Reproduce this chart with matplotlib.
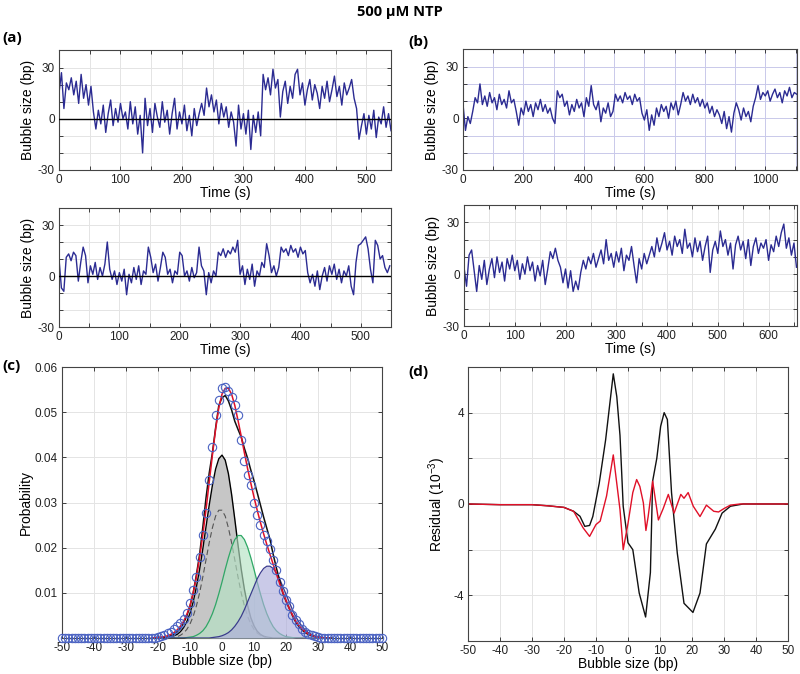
import numpy as np
import matplotlib
matplotlib.use("Agg")
import matplotlib.pyplot as plt

plt.rcParams['font.family'] = ['Liberation Sans', 'DejaVu Sans']
plt.rcParams['mathtext.default'] = 'regular'
plt.rcParams['axes.unicode_minus'] = False
plt.rcParams['xtick.direction'] = 'in'
plt.rcParams['ytick.direction'] = 'in'

# ---------------- time traces (bubble size in bp) ----------------
# (a) upper trace, one value every 4 s
step_a1 = 4
trace_a1 = [15, 27, 6, 21, 17, 24, 14, 22, 9, 26, 12, 20, 8, 19, 4, -6, 5, -3, 8, -8,
            3, 11, -4, 6, -2, 9, 0, 4, -6, 10, -3, 7, -9, 2, -20, 12, -4, 6, -8, 9,
            1, -5, 10, -2, 5, -9, 3, 12, -6, 4, -3, 8, -7, 2, -10, 6, -4, 3, 9, 2,
            18, 7, 14, 4, 11, -3, 9, 1, 7, -5, 4, -2, -16, 8, -6, 3, -9, 5, -18, 2,
            -8, 4, -10, 26, 17, 24, 14, 29, 18, 23, 1, 16, 22, 9, 19, 12, 26, 29, 14, 21,
            8, 17, 23, 11, 20, 15, 6, 19, 12, 22, 10, 17, 25, 13, 19, 8, 21, 14, 18, 23,
            12, 6, -12, -4, 3, -9, 2, -6, 5, -11, 1, -3, 7, -5, 3, -7]

# (a) lower trace, one value every 4 s
step_a2 = 4
trace_a2 = [10, -7, -9, 11, 13, 9, 14, 12, -3, 8, 17, 12, -4, 6, 1, 8, -2, 5, 0, 7,
            20, 4, -2, 3, -5, 2, -3, 4, -11, 1, -4, 5, -2, 6, -5, 3, 1, 17, 11, 2,
            7, -3, 5, 14, 11, 1, 4, -4, 3, 1, 14, 12, 0, 3, -3, 5, -1, 2, 17, 6,
            3, -11, 2, -4, 3, 0, 14, 12, 16, 11, 15, 13, 17, 14, 21, 1, 6, -5, 4, -2,
            7, -6, 3, 0, 8, 5, 19, 12, 2, 6, 0, 5, 17, 14, 16, 12, 18, 14, 16, 11,
            17, 13, 15, 2, -4, 1, -6, 3, -8, 0, 5, -3, 6, 1, 7, -2, 4, -4, 3, 0,
            6, -6, -11, 8, 18, 19, 21, 23, 16, 4, -4, 21, 18, 10, 12, 5, 2, 6]

# (b) upper trace, one value every 8 s
step_b1 = 8
trace_b1 = [8, -7, 1, -3, 4, 12, 9, 20, 8, 13, 7, 15, 9, 12, 5, 14, 8, 11, 6, 16,
            9, 11, 4, -4, 6, 2, 10, 4, 8, 1, 9, 5, 11, 4, 8, 3, 6, 0, -3, 16,
            12, 14, 7, 10, 2, 8, 4, 11, 6, 9, 1, 12, 7, 19, 8, 5, 10, -2, 6, 3,
            9, 1, 4, 14, 10, 13, 9, 15, 11, 13, 8, 14, 10, 12, 3, -1, 5, -7, 2, -4,
            6, 1, 8, 4, 7, 0, 9, 5, 10, 2, 8, 15, 10, 13, 8, 14, 9, 12, 7, 11,
            6, 9, 3, 7, 1, 5, 2, -3, 4, -6, 1, -8, 3, 9, 5, -1, 6, 1, 4, -2,
            7, 12, 19, 11, 15, 13, 16, 10, 14, 17, 12, 15, 9, 16, 13, 18, 12, 15, 14]

# (b) lower trace, one value every 5 s
step_b2 = 5
trace_b2 = [4, -7, 11, 14, 2, -10, 5, -3, 8, -6, 3, 9, -2, 10, 1, 7, -4, 9, 3, 11,
            2, 8, -3, 6, 0, 10, 2, 7, -4, 5, -1, 8, -6, 3, 13, 9, 15, 8, 4, -5,
            3, -8, 2, -10, -4, -9, 1, 8, 3, 10, 6, 12, 4, 9, 14, 6, 20, 8, 12, 4,
            13, 7, 15, 2, 11, 8, 16, 5, -5, 9, 3, 12, 6, 11, 16, 10, 21, 13, 18, 24,
            14, 19, 11, 22, 16, 20, 12, 26, 15, 18, 10, 21, 13, 19, 8, 16, 22, 1, 14, 19,
            12, 25, 16, 20, 11, 18, 3, 17, 22, 14, 19, 9, 20, 5, 16, 21, 12, 18, 15, 20,
            8, 17, 13, 22, 16, 24, 29, 15, 21, 11, 18, 4]

# ---------------- (c) histogram and fitted components ----------------
hist_bp = list(range(-50, 51))
hist_prob = [0.0] * 29 + [
    0.0001, 0.0002, 0.0004, 0.0006, 0.0010, 0.0014, 0.0020, 0.0026, 0.0033, 0.0042,
    0.0055, 0.0077, 0.0107, 0.0136, 0.0180, 0.0229, 0.0277, 0.0350, 0.0423, 0.0494,
    0.0528, 0.0553, 0.0555, 0.0548, 0.0533, 0.0516, 0.0494, 0.0439, 0.0391, 0.0361,
    0.0339, 0.0299, 0.0273, 0.0251, 0.0229, 0.0214, 0.0196, 0.0173, 0.0151, 0.0125,
    0.0103, 0.0085, 0.0070, 0.0052, 0.0040, 0.0030, 0.0021, 0.0014, 0.0009, 0.0006,
    0.0004, 0.0002, 0.0001] + [0.0] * 19

fit_bp = list(range(-22, 35))
comp_gray = [0, 0, 0, 0, 0.0001, 0.0001, 0.0002, 0.0005, 0.0008, 0.0014,
             0.0023, 0.0036, 0.0055, 0.0080, 0.0113, 0.0152, 0.0197, 0.0246, 0.0294, 0.0338,
             0.0374, 0.0397, 0.0405, 0.0394, 0.0364, 0.0318, 0.0263, 0.0206, 0.0153, 0.0108,
             0.0072, 0.0045, 0.0027, 0.0015, 0.0008, 0.0004, 0.0002, 0.0001] + [0] * 19
comp_dashed = [0] * 8 + [
    0.0003, 0.0006, 0.0011, 0.0019, 0.0031, 0.0048, 0.0071, 0.0100, 0.0135, 0.0173,
    0.0211, 0.0244, 0.0270, 0.0283, 0.0283, 0.0270, 0.0244, 0.0211, 0.0173, 0.0135,
    0.0100, 0.0071, 0.0048, 0.0031, 0.0019, 0.0011, 0.0006, 0.0003] + [0] * 21
comp_green = [0] * 11 + [
    0.0001, 0.0002, 0.0003, 0.0006, 0.0010, 0.0016, 0.0025, 0.0038, 0.0054, 0.0074,
    0.0098, 0.0124, 0.0152, 0.0178, 0.0201, 0.0218, 0.0227, 0.0227, 0.0218, 0.0201,
    0.0178, 0.0152, 0.0124, 0.0098, 0.0074, 0.0054, 0.0038, 0.0025, 0.0016, 0.0010,
    0.0006, 0.0003, 0.0002, 0.0001] + [0] * 12
comp_purple = [0] * 19 + [
    0.0001, 0.0002, 0.0003, 0.0005, 0.0008, 0.0012, 0.0018, 0.0026, 0.0036, 0.0048,
    0.0063, 0.0080, 0.0097, 0.0114, 0.0131, 0.0144, 0.0154, 0.0159, 0.0159, 0.0154,
    0.0144, 0.0131, 0.0114, 0.0097, 0.0080, 0.0063, 0.0048, 0.0036, 0.0026, 0.0018,
    0.0012, 0.0008, 0.0005, 0.0003, 0.0002, 0.0001] + [0] * 2
fit_black = [0, 0, 0, 0.0001, 0.0001, 0.0002, 0.0005, 0.0009, 0.0014, 0.0022,
             0.0033, 0.0049, 0.0070, 0.0100, 0.0140, 0.0185, 0.0245, 0.0310, 0.0365, 0.0410,
             0.0465, 0.0515, 0.0532, 0.0537, 0.0525, 0.0505, 0.0480, 0.0462, 0.0445, 0.0420,
             0.0398, 0.0372, 0.0348, 0.0322, 0.0295, 0.0268, 0.0243, 0.0218, 0.0185, 0.0155,
             0.0128, 0.0100, 0.0082, 0.0066, 0.0050, 0.0036, 0.0026, 0.0018, 0.0012, 0.0008,
             0.0005, 0.0003, 0.0002, 0.0001, 0, 0, 0]
fit_red = [0, 0.0001, 0.0001, 0.0002, 0.0003, 0.0005, 0.0008, 0.0012, 0.0018, 0.0026,
           0.0037, 0.0052, 0.0072, 0.0100, 0.0135, 0.0178, 0.0228, 0.0284, 0.0345, 0.0405,
           0.0462, 0.0510, 0.0540, 0.0553, 0.0553, 0.0540, 0.0515, 0.0482, 0.0447, 0.0410,
           0.0375, 0.0343, 0.0312, 0.0283, 0.0256, 0.0231, 0.0207, 0.0185, 0.0163, 0.0142,
           0.0121, 0.0101, 0.0083, 0.0066, 0.0051, 0.0038, 0.0028, 0.0020, 0.0014, 0.0009,
           0.0006, 0.0003, 0.0002, 0.0001, 0, 0, 0]

# ---------------- (d) residuals (units of 1e-3) ----------------
res_bp_black = [-50, -40, -30, -25, -20, -17, -15, -13.5, -12, -11, -9, -7, -4.6, -3.5, -2.5,
                -1.5, 0, 1.5, 3.5, 5.5, 7, 7.7, 9, 10.2, 11.3, 12.3, 13.6, 15.4, 17.5, 20.3,
                22.5, 24.5, 27.3, 29.4, 32, 36, 50]
res_black = [0, -0.03, -0.03, -0.08, -0.15, -0.32, -0.54, -0.98, -0.94, -0.55, 0.9, 2.8, 5.7, 4.7, 3.0,
             -0.1, -1.7, -2.0, -3.9, -4.95, -3.0, 1.0, 2.0, 3.4, 4.0, 3.7, 0.5, -2.15, -4.35, -4.75,
             -3.9, -1.75, -1.1, -0.4, -0.1, 0, 0]
res_bp_red = [-50, -40, -30, -25, -20, -17, -14, -12, -10, -8.7, -6.7, -4.6, -2.5, -1.5, 0,
              1.5, 2.7, 3.7, 4.8, 5.6, 6.3, 7.7, 9.5, 11, 12.6, 14.4, 16.5, 17.5, 18.8, 20.4,
              22.5, 24.5, 26.8, 28.3, 30, 32, 35, 50]
res_red = [0, -0.03, -0.03, -0.08, -0.15, -0.32, -1.05, -1.42, -0.9, -0.75, 0.35, 2.15, -0.25, -2.0, -0.85,
           0.5, 1.07, 0.77, 0.05, -1.16, -0.55, 1.0, -0.7, -0.2, 0.42, -0.4, 0.42, 0.25, 0.5, -0.1,
           -0.55, -0.05, -0.32, -0.35, -0.2, -0.05, 0, 0]

trace_color = '#2b2b92'
grid_color = '#e4e4e4'
edge_color = '#444444'

fig = plt.figure(figsize=(8, 6.74), dpi=100)


def style_axes(ax, gcolor=grid_color):
    # MATLAB-ish box: ticks inside on all four sides, light grid
    ax.grid(True, color=gcolor, lw=0.7)
    ax.set_axisbelow(True)
    ax.tick_params(top=True, right=True, length=3, width=0.6, labelsize=8.5,
                   colors='#222222', pad=3)
    for s in ax.spines.values():
        s.set_color(edge_color)
        s.set_linewidth(0.8)


def trace_panel(rect, vals, step, xmax, xgrid, xlab, gcolor=grid_color, zero_line=True):
    ax = fig.add_axes(rect)
    t = np.arange(len(vals)) * step
    ax.plot(t, vals, color=trace_color, lw=1.0)
    if zero_line:
        ax.axhline(0, color='black', lw=1.0, zorder=3)
    ax.set_xlim(0, xmax)
    ax.set_ylim(-30, 40)
    xt = np.arange(0, xmax + 1, xgrid)
    ax.set_xticks(xt)
    ax.set_xticklabels([str(v) if v % xlab == 0 else '' for v in xt])
    yt = np.arange(-30, 41, 10)
    ax.set_yticks(yt)
    ax.set_yticklabels([str(v) if v in (-30, 0, 30) else '' for v in yt])
    ax.set_xlabel('Time (s)', fontsize=10, labelpad=0)
    ax.set_ylabel('Bubble size (bp)', fontsize=10, labelpad=2)
    style_axes(ax, gcolor)
    return ax


trace_panel([0.07375, 0.7478, 0.415, 0.1773], trace_a1, step_a1, 540, 50, 100)
trace_panel([0.07375, 0.5148, 0.415, 0.1766], trace_a2, step_a2, 550, 50, 100)
trace_panel([0.5788, 0.7478, 0.4175, 0.1788], trace_b1, step_b1, 1105, 100, 200,
            gcolor='#c9c9ea', zero_line=False)
trace_panel([0.58, 0.5163, 0.41625, 0.1795], trace_b2, step_b2, 656, 50, 100, zero_line=False)

# ---------------- (c) ----------------
axc = fig.add_axes([0.0775, 0.0534, 0.4, 0.402])
axc.fill_between(fit_bp, comp_gray, color='#c6c6c6', lw=0, zorder=2)
axc.plot(fit_bp, comp_gray, color='black', lw=1.0, zorder=2)
axc.plot(fit_bp, comp_dashed, color='#555555', lw=0.8, ls=(0, (5, 3)), zorder=2)
axc.fill_between(fit_bp, comp_green, color='#b4e2c3', alpha=0.65, lw=0, zorder=3)
axc.plot(fit_bp, comp_green, color='#2fa866', lw=0.9, zorder=3)
axc.fill_between(fit_bp, comp_purple, color='#aeaedc', alpha=0.65, lw=0, zorder=4)
axc.plot(fit_bp, comp_purple, color='#3a3a8e', lw=0.9, zorder=4)
axc.plot(fit_bp, fit_black, color='#111111', lw=1.1, zorder=5)
axc.plot(fit_bp, fit_red, color='#e01028', lw=1.1, zorder=6)
axc.plot(hist_bp, hist_prob, 'o', mfc='none', mec='#4a62c2', ms=6, mew=0.8,
         clip_on=False, zorder=7)
axc.set_xlim(-50, 50)
axc.set_ylim(0, 0.06)
axc.set_xticks(np.arange(-50, 51, 10))
axc.set_yticks([0.01, 0.02, 0.03, 0.04, 0.05, 0.06])
axc.set_yticklabels(['0.01', '0.02', '0.03', '0.04', '0.05', '0.06'])
axc.set_xlabel('Bubble size (bp)', fontsize=10, labelpad=0)
axc.set_ylabel('Probability', fontsize=10, labelpad=1)
style_axes(axc)

# ---------------- (d) ----------------
axd = fig.add_axes([0.585, 0.049, 0.4, 0.4065])
axd.plot(res_bp_black, res_black, color='#111111', lw=1.0)
axd.plot(res_bp_red, res_red, color='#e01028', lw=1.0)
axd.set_xlim(-50, 50)
axd.set_ylim(-6, 6)
axd.set_xticks(np.arange(-50, 51, 10))
axd.set_yticks([-4, -2, 0, 2, 4])
axd.set_yticklabels(['-4', '', '0', '', '4'])
axd.set_xlabel('Bubble size (bp)', fontsize=10, labelpad=0)
axd.set_ylabel('Residual (10$^{-3}$)', fontsize=10, labelpad=4)
style_axes(axd)

# title and panel letters
bold = dict(family=['Open Sans', 'DejaVu Sans'], fontweight='bold')
fig.text(0.5, 1 - 12 / 674, '500 \u00b5M NTP', ha='center', va='center', fontsize=10.5, **bold)
fig.text(0.003, 1 - 38 / 674, '(a)', ha='left', va='center', fontsize=11, **bold)
fig.text(0.51, 1 - 42 / 674, '(b)', ha='left', va='center', fontsize=11, **bold)
fig.text(0.003, 1 - 366 / 674, '(c)', ha='left', va='center', fontsize=11, **bold)
fig.text(0.51, 1 - 372 / 674, '(d)', ha='left', va='center', fontsize=11, **bold)

fig.savefig('out.png', dpi=100)
